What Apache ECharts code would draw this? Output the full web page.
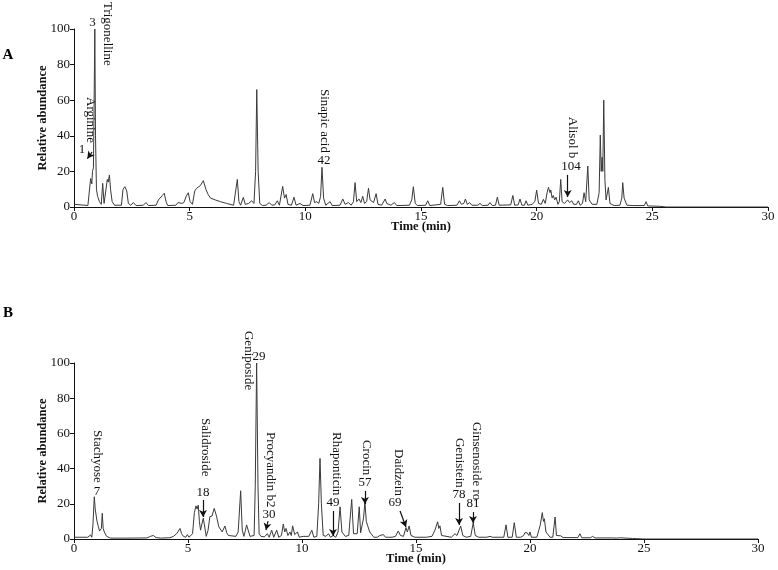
<!DOCTYPE html>
<html>
<head>
<meta charset="utf-8">
<script src="https://cdn.jsdelivr.net/npm/echarts@6/dist/echarts.min.js"></script>
<style>
html,body{margin:0;padding:0;background:#fff}
#main{width:778px;height:570px}
</style>
</head>
<body>
<div id="main"></div>
<script>
// 色谱图数据 [时间(min), 相对丰度]
var traceA = [
  [0,1.5],[0.3,1.2],[0.6,0.8],[0.66,1],[0.72,16],[0.77,13],[0.8,20],[0.84,22],[0.87,60],[0.9,100],[0.93,40],[0.97,10],[1.02,6],[1.1,3],[1.18,1.5],[1.24,13.3],[1.3,2],[1.38,3],[1.44,15.5],[1.48,14],[1.53,18],[1.58,10],[1.65,3],[1.75,1],
  [2.05,1],[2.12,10],[2.2,11.4],[2.28,9],[2.35,2],[2.45,1],[2.57,2.5],[2.68,0.8],[3.0,1],[3.11,2.5],[3.22,0.8],[3.55,1],[3.65,4],[3.72,5],[3.82,6.5],[3.9,7.7],[3.98,3],[4.05,0.8],
  [4.4,1],[4.5,2.5],[4.58,3.5],[4.66,2],[4.75,2.5],[4.85,6],[4.94,8],[5.02,3],[5.12,1.5],[5.22,9],[5.3,10.5],[5.38,9.5],[5.46,12],[5.59,14.8],[5.7,10],[5.8,7],[5.9,5],[6.1,4],[6.33,3],[6.6,2],[6.9,1],
  [6.98,2],[7.06,15.5],[7.13,3],[7.2,1],[7.32,5.4],[7.4,1.5],[7.55,2],[7.68,3.5],[7.78,2],[7.85,20],[7.9,66],[7.96,20],[8.03,2],[8.15,0.8],[8.3,1],[8.44,2.5],[8.55,1],[8.68,1.2],[8.79,3.5],[8.88,1],
  [9.02,11.6],[9.1,5],[9.17,7],[9.25,1.5],[9.4,1],[9.51,5.5],[9.6,1],[9.77,2],[9.9,0.8],[10.2,1],[10.32,7.5],[10.4,2.5],[10.49,3],[10.58,2],[10.66,6],[10.72,22.3],[10.79,5],[10.88,1],[11.07,3],[11.16,0.8],
  [11.5,1],[11.62,4.5],[11.72,1.5],[11.86,2.5],[11.98,1],[12.08,3],[12.15,13.7],[12.22,3],[12.32,4.5],[12.4,2.5],[12.48,6],[12.56,2],[12.65,3],[12.73,10.5],[12.8,4],[12.87,5],[12.95,2.5],[13.06,7.5],[13.14,1.5],
  [13.3,1],[13.45,4.5],[13.52,2],[13.6,3],[13.7,1],[13.85,2.5],[13.95,0.8],[14.5,1],[14.6,4],[14.67,11.4],[14.75,2],[14.85,0.8],[15.2,1],[15.29,3.5],[15.38,0.8],[15.85,1.5],[15.94,11],[16.02,1.5],[16.15,0.8],
  [16.55,1],[16.66,3.5],[16.75,1.5],[16.85,2],[16.92,4.5],[17.0,1.5],[17.1,2.5],[17.2,1],[17.45,1],[17.55,2],[17.65,0.8],[17.9,1],[17.98,2.5],[18.08,0.8],[18.22,1],[18.3,5.5],[18.38,1],
  [18.88,1.2],[18.97,6.5],[19.05,1],[19.2,1.2],[19.28,4.5],[19.36,1],[19.47,1],[19.54,3.5],[19.62,1],[19.8,1.5],[19.92,3],[20.0,9.5],[20.08,2],[20.2,1.5],[20.29,4.3],[20.37,2],[20.45,8],[20.51,11],[20.58,8],[20.61,9.5],
  [20.67,5],[20.72,6.5],[20.78,4],[20.84,5.5],[20.92,1.5],[20.98,3],[21.04,15.5],[21.1,3],[21.2,2],[21.34,4],[21.42,2.5],[21.52,3.5],[21.6,1.5],[21.72,1.5],[21.8,3.5],[21.88,1],[21.98,2],[22.05,8],[22.12,3],
  [22.21,23],[22.27,4],[22.3,4.5],[22.4,1.5],[22.6,1.5],[22.7,8],[22.75,40.4],[22.79,20],[22.83,28],[22.86,20],[22.9,60],[22.95,15],[23.0,4],[23.05,3],[23.1,11],[23.17,2],[23.25,1.5],[23.35,0.8],
  [23.6,1],[23.68,5],[23.72,13.7],[23.78,5],[23.83,4],[23.9,1],[24.2,0.8],[24.65,0.8],[24.73,3],[24.8,0.6],[25.3,0.4],[25.6,0],[30,0]
];
var traceB = [
  [0,1],[0.6,1],[0.68,1.5],[0.73,2.3],[0.78,1],[0.83,8],[0.89,24],[0.93,17],[0.96,17.4],[1.01,10],[1.07,7],[1.12,4.5],[1.17,3.5],[1.2,6],[1.24,14.6],[1.28,6],[1.33,4],[1.43,1.5],[1.6,0.5],
  [2.5,0.5],[3.2,0.6],[3.35,1.5],[3.48,2],[3.6,0.8],[3.8,0.5],[4.2,0.7],[4.36,1.5],[4.5,3],[4.65,6],[4.72,3],[4.8,1.5],[4.9,1],[4.97,2.5],[5.04,1],[5.1,0.5],
  [5.2,3],[5.28,15],[5.35,18.8],[5.4,17],[5.45,19.3],[5.5,10],[5.55,5],[5.6,8],[5.67,11.8],[5.72,8],[5.8,1.5],[5.88,5],[5.96,12.7],[6.05,13],[6.15,17.4],[6.25,13],[6.35,7],[6.5,4],[6.62,7.4],[6.7,3.5],[6.77,2],
  [7.1,1.5],[7.2,4],[7.31,27.4],[7.38,5],[7.45,1.5],[7.52,5],[7.57,8],[7.62,7],[7.72,1.5],[7.9,2],[7.95,30],[8.01,100],[8.07,30],[8.12,3],[8.2,1.5],[8.35,1.2],[8.48,3],[8.56,1],[8.67,5],[8.76,1],[8.89,5],[8.98,1],
  [9.1,2],[9.18,8.5],[9.24,4],[9.3,6],[9.38,2],[9.47,4],[9.53,2],[9.59,7.5],[9.68,2.5],[9.8,4],[9.88,1],[10.05,1.5],[10.13,1.5],[10.3,1.5],[10.43,5],[10.52,1],[10.65,1.5],[10.73,20],[10.79,45.8],[10.85,20],[10.93,2],
  [11.05,1.5],[11.16,3],[11.25,1],[11.37,2],[11.48,1],[11.58,4],[11.67,18.3],[11.75,4],[11.9,1.5],[12.05,2],[12.18,22.5],[12.26,3],[12.32,2],[12.42,3],[12.51,18.3],[12.57,3.5],[12.62,4],[12.7,12],[12.76,21.2],
  [12.82,10],[12.9,9],[12.97,4],[13.05,3],[13.15,1],[13.3,1],[13.42,2],[13.5,1],[13.57,2.5],[13.66,1],[13.8,1],[13.87,2],[13.95,1],[14.1,1.5],[14.22,4.5],[14.32,2],[14.45,1.5],[14.56,6.5],[14.62,4],[14.7,7.4],[14.78,2],
  [14.95,1],[15.45,1],[15.7,1.5],[15.83,5],[15.9,4],[15.95,9.8],[16.0,6],[16.05,7.5],[16.12,2],[16.2,1.5],[16.55,1],[16.71,3],[16.8,2],[16.88,2.5],[16.96,7.4],[17.05,2],[17.2,1],[17.4,1.5],[17.51,9.3],[17.6,2],[17.75,1],
  [18.1,1],[18.25,1.5],[18.35,1],[18.85,1],[18.95,8],[19.03,1],[19.22,1],[19.31,9.3],[19.4,1],[19.6,1],[19.72,2],[19.78,3.6],[19.82,2.5],[19.88,3.5],[19.95,2],[20.0,4],[20.06,1],[20.3,1],[20.45,8],[20.54,15],[20.59,10],
  [20.63,11.5],[20.7,4],[20.76,3],[20.88,1],[21.0,1],[21.1,12.5],[21.16,2],[21.2,1],[21.35,1.8],[21.45,0.8],[22.1,0.8],[22.19,3],[22.27,0.7],[22.65,0.7],[22.75,1.5],[22.85,0.6],[23.25,0.6],[23.33,1.5],[23.42,0.6],
  [23.62,0.6],[23.7,1.2],[23.8,0.5],[23.94,0.7],[24.5,0.3],[25,0],[30,0]
];

// 峰标注: [编号, 名称, 名称t, 名称顶部v, 编号t, 编号v, 箭头[t1,v1,t2,v2]]
var labelsA = [
  ['3', 'Trigonelline', 1.45, 115.2, 0.8, 103.4, null],
  ['1', 'Arginine', 0.69, 61.8, 0.35, 32, [0.78, 30.9, 0.58, 27.2]],
  ['42', 'Sinapic acid', 10.81, 66.3, 10.81, 25.8, null],
  ['104', 'Alisol b', 21.55, 50.7, 21.48, 22.5, [21.34, 18, 21.34, 5.6]]
];
var labelsB = [
  ['7', 'Stachyose', 1.01, 61.9, 1.01, 26.7, null],
  ['18', 'Salidroside', 5.75, 68.8, 5.66, 26.1, [5.66, 22.2, 5.66, 12.5]],
  ['29', 'Geniposide', 7.63, 118.2, 8.11, 103.4, null],
  ['30', 'Procyandin b2', 8.6, 60.8, 8.55, 13.6, [8.51, 10.2, 8.42, 5.1]],
  ['49', 'Rhaponticin', 11.49, 60.8, 11.36, 20.5, [11.36, 15.9, 11.36, 1.7]],
  ['57', 'Crocin', 12.81, 56.3, 12.76, 31.8, [12.76, 27.3, 12.76, 19.9]],
  ['69', 'Daidzein', 14.21, 51.1, 14.08, 20.5, [14.3, 15.9, 14.56, 6.8]],
  ['78', 'Genistein', 16.89, 57.4, 16.89, 25, [16.89, 20.5, 16.89, 8]],
  ['81', 'Ginsenoside ro', 17.63, 66.5, 17.5, 19.9, [17.5, 15.3, 17.5, 9.1]]
];

var serif = 'Liberation Serif';
var myChart = echarts.init(document.getElementById('main'));

function xAxisOf(i) {
  return {
    gridIndex: i, type: 'value', min: 0, max: 30, interval: 5,
    axisLine: { show: true, lineStyle: { color: '#111', width: 1 } },
    axisTick: { show: true, length: 4, lineStyle: { color: '#111' } },
    axisLabel: { fontFamily: serif, fontSize: 13, color: '#111', margin: 3 },
    splitLine: { show: false },
    name: 'Time (min)', nameLocation: 'middle', nameGap: 13, nameMoveOverlap: false,
    nameTextStyle: { fontFamily: serif, fontWeight: 'bold', fontSize: 12.5, color: '#111' }
  };
}
function yAxisOf(i) {
  return {
    gridIndex: i, type: 'value', min: 0, max: 100, interval: 20,
    axisLine: { show: true, lineStyle: { color: '#111', width: 1 } },
    axisTick: { show: true, length: 4, lineStyle: { color: '#111' } },
    axisLabel: { fontFamily: serif, fontSize: 13, color: '#111', margin: 4 },
    splitLine: { show: false },
    name: 'Relative abundance', nameLocation: 'middle', nameGap: 25, nameRotate: 90, nameMoveOverlap: false,
    nameTextStyle: { fontFamily: serif, fontWeight: 'bold', fontSize: 12.5, color: '#111' }
  };
}
function arrowsOf(list) {
  return list.filter(function (d) { return d[6]; }).map(function (d) {
    return [{ coord: [d[6][0], d[6][1]] }, { coord: [d[6][2], d[6][3]] }];
  });
}
function seriesOf(i, data, labels) {
  return {
    type: 'line', xAxisIndex: i, yAxisIndex: i, data: data,
    symbol: 'none', smooth: false,
    lineStyle: { color: '#3a3a3a', width: 1 },
    markLine: {
      silent: true, symbol: ['none', 'arrow'], symbolSize: [6, 7],
      label: { show: false },
      lineStyle: { color: '#111', width: 1.2, type: 'solid' },
      data: arrowsOf(labels)
    }
  };
}

myChart.setOption({
  animation: false,
  backgroundColor: '#fff',
  grid: [
    { left: 74, right: 10, top: 29, height: 178 },
    { left: 74, right: 20, top: 363, height: 176 }
  ],
  xAxis: [xAxisOf(0), xAxisOf(1)],
  yAxis: [yAxisOf(0), yAxisOf(1)],
  series: [seriesOf(0, traceA, labelsA), seriesOf(1, traceB, labelsB)]
});

// 标注文字(竖排名称 + 编号)
var texts = [
  { type: 'text', x: 8, y: 55, style: { text: 'A', font: 'bold 15px "Liberation Serif"', fill: '#000', align: 'center', verticalAlign: 'middle' } },
  { type: 'text', x: 8, y: 313, style: { text: 'B', font: 'bold 15px "Liberation Serif"', fill: '#000', align: 'center', verticalAlign: 'middle' } }
];
[labelsA, labelsB].forEach(function (list, gi) {
  list.forEach(function (d) {
    var p1 = myChart.convertToPixel({ xAxisIndex: gi, yAxisIndex: gi }, [d[2], d[3]]);
    var p2 = myChart.convertToPixel({ xAxisIndex: gi, yAxisIndex: gi }, [d[4], d[5]]);
    texts.push({
      type: 'text', x: p1[0], y: p1[1], rotation: -Math.PI / 2,
      style: { text: d[1], font: '13px "Liberation Serif"', fill: '#111', align: 'left', verticalAlign: 'middle' }
    });
    texts.push({
      type: 'text', x: p2[0], y: p2[1],
      style: { text: d[0], font: '13px "Liberation Serif"', fill: '#111', align: 'center', verticalAlign: 'middle' }
    });
  });
});
myChart.setOption({ graphic: texts });
</script>
</body>
</html>
